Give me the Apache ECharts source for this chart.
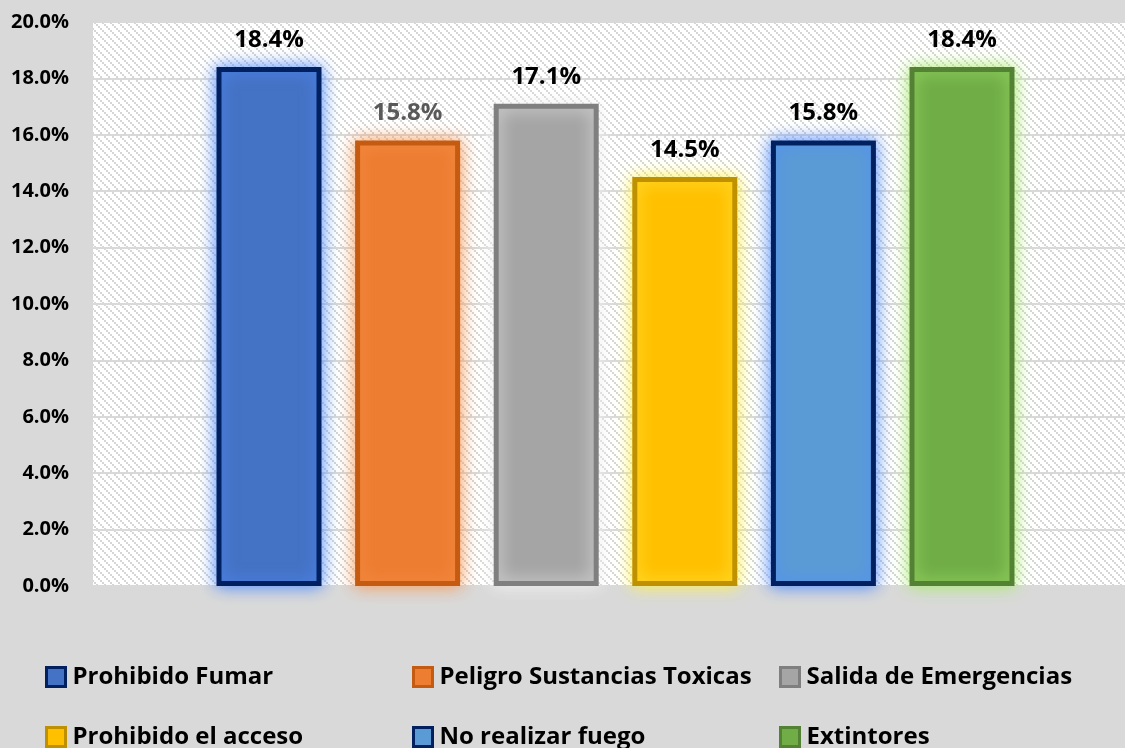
<!DOCTYPE html>
<html lang="es">
<head>
    <meta charset="UTF-8">
    <title>Señales de seguridad</title>
    <script src="https://cdnjs.cloudflare.com/ajax/libs/echarts/6.0.0/echarts.min.js"></script>
    <style>
        html, body { margin: 0; padding: 0; background: #d9d9d9; }
        #main { width: 1125px; height: 748px; }
    </style>
</head>
<body>
    <div id="main"></div>

    <script>
        // datos
        var categories = ['Prohibido Fumar', 'Peligro Sustancias Toxicas', 'Salida de Emergencias',
            'Prohibido el acceso', 'No realizar fuego', 'Extintores'];
        var values = [18.4, 15.8, 17.1, 14.5, 15.8, 18.4];
        var yMax = 20;
        var yStep = 2;

        // estilos
        var fills = ['#4472c4', '#ed7d31', '#a5a5a5', '#ffc000', '#5b9bd5', '#70ad47'];
        var borders = ['#002060', '#c55a11', '#7f7f7f', '#bf9000', '#002060', '#548235'];
        var glows = ['rgba(80,140,255,1)', 'rgba(250,150,80,0.9)', 'rgba(240,240,240,1)',
            'rgba(255,240,80,1)', 'rgba(80,140,255,1)', 'rgba(170,235,110,1)'];
        var labelColors = ['#000', '#595959', '#000', '#000', '#000', '#000'];
        var legendLeft = [45, 412, 779];
        var legendTop = [665, 725];

        var font = '"Open Sans", sans-serif';

        // trama diagonal del área de trazado
        var tile = document.createElement('canvas');
        tile.width = 8; tile.height = 8;
        var tctx = tile.getContext('2d');
        tctx.fillStyle = '#ffffff';
        tctx.fillRect(0, 0, 8, 8);
        tctx.fillStyle = '#d6d6d6';
        for (var k = 0; k < 8; k += 2) tctx.fillRect(k, k, 2, 2);

        var chart = echarts.init(document.getElementById('main'));

        var series = categories.map(function (name, i) {
            return {
                name: name,
                type: 'bar',
                data: [values[i]],
                barWidth: 105,
                barGap: '32%',
                itemStyle: {
                    color: fills[i],
                    borderColor: borders[i],
                    borderWidth: 5,
                    shadowBlur: 16,
                    shadowColor: glows[i]
                },
                label: {
                    show: true,
                    position: 'top',
                    distance: 15,
                    formatter: function (p) { return p.value.toFixed(1) + '%'; },
                    color: labelColors[i],
                    fontFamily: font,
                    fontWeight: 'bold',
                    fontSize: 24
                }
            };
        });

        var legends = categories.map(function (name, i) {
            return {
                data: [name],
                left: legendLeft[i % 3],
                top: legendTop[Math.floor(i / 3)],
                padding: 0,
                icon: 'rect',
                itemWidth: 19,
                itemHeight: 19,
                itemGap: 0,
                itemStyle: { borderWidth: 3, shadowBlur: 0 },
                selectedMode: false,
                textStyle: {
                    color: '#000',
                    fontFamily: font,
                    fontWeight: 'bold',
                    fontSize: 24,
                    padding: [0, 0, 0, 2]
                }
            };
        });

        var option = {
            backgroundColor: '#d9d9d9',
            animation: false,
            grid: {
                left: 93,
                width: 1045,
                top: 22,
                bottom: 162,
                outerBoundsMode: 'none',
                show: true,
                borderWidth: 0,
                backgroundColor: { image: tile, repeat: 'repeat' }
            },
            legend: legends,
            xAxis: {
                type: 'category',
                data: [''],
                axisLine: { show: false },
                axisTick: { show: false },
                axisLabel: { show: false }
            },
            yAxis: {
                type: 'value',
                min: 0,
                max: yMax,
                interval: yStep,
                axisLine: { show: false },
                axisTick: { show: false },
                splitLine: { lineStyle: { color: '#d9d9d9', width: 2 } },
                axisLabel: {
                    margin: 24,
                    color: '#000',
                    fontFamily: font,
                    fontWeight: 'bold',
                    fontSize: 20,
                    formatter: function (v) { return v.toFixed(1) + '%'; }
                }
            },
            series: series
        };

        chart.setOption(option);
    </script>
</body>
</html>
